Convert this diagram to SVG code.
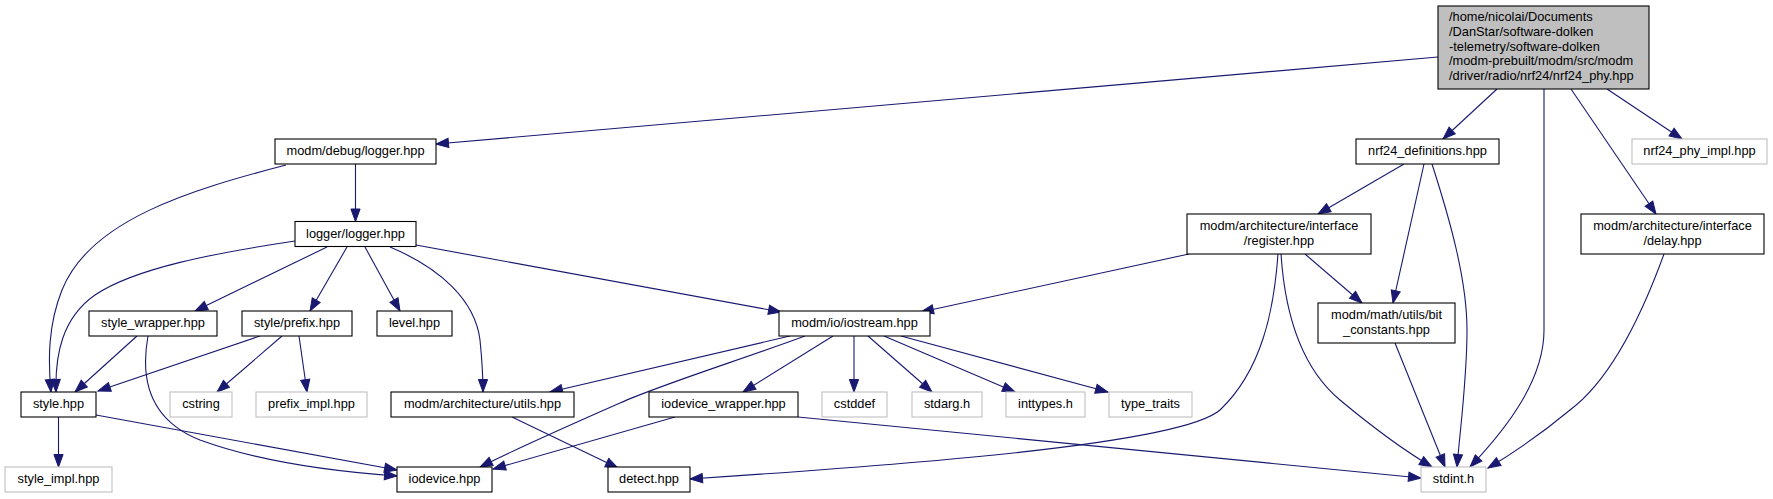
<svg xmlns="http://www.w3.org/2000/svg" width="1773" height="499" viewBox="0 0 1773 499">
<style>
  .n rect { fill: #ffffff; stroke: #000000; stroke-width: 1.1; }
  .x rect { fill: #ffffff; stroke: #bfbfbf; stroke-width: 1.1; }
  .m rect { fill: #bfbfbf; stroke: #000000; stroke-width: 1.1; }
  text { font-family: "Liberation Sans", Arial, Helvetica, sans-serif; font-size: 12.8px; fill: #000000; }
  .c { text-anchor: middle; }
  .edges path { fill: none; stroke: #191970; stroke-width: 1.1; marker-end: url(#arr); }
</style>
<defs>
  <marker id="arr" markerUnits="userSpaceOnUse" markerWidth="14" markerHeight="10" refX="12.5" refY="4.6" orient="auto" overflow="visible">
    <path d="M0,0 L12.5,4.6 L0,9.2 z" fill="#191970" stroke="#191970" stroke-width="1"/>
  </marker>
</defs>
<rect x="0" y="0" width="1773" height="499" fill="#ffffff"/>

<g class="edges" id="edges">
  <path d="M1438,57 L436,144"/>
  <path d="M1497,89 L1443,139"/>
  <path d="M1544,89 L1544,330 C1544,378 1510,425 1470,467"/>
  <path d="M1571,89 L1656,214"/>
  <path d="M1607,89 L1682,139"/>
  <path d="M355.5,164 L355.5,221.5"/>
  <path d="M286,165 C190,190 90,220 62,290 C48,325 48,360 51,392"/>
  <path d="M295,241 C215,253 135,268 95,295 C62,318 55,355 56,392"/>
  <path d="M327,247 L195,311"/>
  <path d="M347,247 L310,311"/>
  <path d="M365,247 L400,311"/>
  <path d="M390,247 C440,268 475,300 480,340 C482,360 483,378 483,392"/>
  <path d="M416,245 L781,312"/>
  <path d="M137,336 L75,392"/>
  <path d="M148,336 C140,380 150,420 200,440 C260,462 340,472 397,476"/>
  <path d="M260,336 L98,391"/>
  <path d="M282,336 L217,392"/>
  <path d="M299,336 L307,392"/>
  <path d="M790,336 L550,392"/>
  <path d="M805,336 C740,360 660,385 620,403 C570,425 520,447 480,467"/>
  <path d="M833,336 L743,392"/>
  <path d="M854,336 L854,392"/>
  <path d="M868,336 L932,392"/>
  <path d="M884,336 L1015,392"/>
  <path d="M901,336 L1108,392"/>
  <path d="M1404,164 L1318,214"/>
  <path d="M1424,164 L1393,303"/>
  <path d="M1432,164 C1450,220 1467,280 1467,330 C1467,380 1460,430 1457,467"/>
  <path d="M1189,254 L921,312"/>
  <path d="M1278,254 C1274,310 1262,370 1220,410 C1180,445 900,465 690,479"/>
  <path d="M1281,254 C1286,330 1310,375 1340,400 C1370,425 1400,448 1432,467"/>
  <path d="M1305,254 L1362,303"/>
  <path d="M1395,343 L1445,467"/>
  <path d="M1664,254 C1640,320 1610,380 1570,410 C1540,435 1515,452 1488,468"/>
  <path d="M675,417 L493,469"/>
  <path d="M798,417 L1421,478"/>
  <path d="M512,417 L618,468"/>
  <path d="M58.5,417 L58.5,467"/>
  <path d="M96,415 L397,470"/>
</g>

<g id="node_main" class="m">
  <rect x="1438" y="6" width="211" height="83"/>
  <text x="1449" y="21">/home/nicolai/Documents</text>
  <text x="1449" y="35.75">/DanStar/software-dolken</text>
  <text x="1449" y="50.5">-telemetry/software-dolken</text>
  <text x="1449" y="65.25">/modm-prebuilt/modm/src/modm</text>
  <text x="1449" y="80">/driver/radio/nrf24/nrf24_phy.hpp</text>
</g>
<g id="node_debug_logger" class="n">
  <rect x="275" y="139" width="161" height="25"/>
  <text class="c" x="355.5" y="155.3">modm/debug/logger.hpp</text>
</g>
<g id="node_nrf24_definitions" class="n">
  <rect x="1356" y="139" width="143" height="25"/>
  <text class="c" x="1427.5" y="155.3">nrf24_definitions.hpp</text>
</g>
<g id="node_nrf24_phy_impl" class="x">
  <rect x="1632" y="139" width="135" height="25"/>
  <text class="c" x="1699.5" y="155.3">nrf24_phy_impl.hpp</text>
</g>
<g id="node_logger_logger" class="n">
  <rect x="295" y="221.5" width="121" height="25"/>
  <text class="c" x="355.5" y="237.8">logger/logger.hpp</text>
</g>
<g id="node_register" class="n">
  <rect x="1187" y="214" width="184" height="40"/>
  <text class="c" x="1279" y="230">modm/architecture/interface</text>
  <text class="c" x="1279" y="244.7">/register.hpp</text>
</g>
<g id="node_delay" class="n">
  <rect x="1581" y="214" width="183" height="40"/>
  <text class="c" x="1672.5" y="230">modm/architecture/interface</text>
  <text class="c" x="1672.5" y="244.7">/delay.hpp</text>
</g>
<g id="node_style_wrapper" class="n">
  <rect x="89" y="311" width="128" height="25"/>
  <text class="c" x="153" y="327.3">style_wrapper.hpp</text>
</g>
<g id="node_style_prefix" class="n">
  <rect x="242" y="311" width="110" height="25"/>
  <text class="c" x="297" y="327.3">style/prefix.hpp</text>
</g>
<g id="node_level" class="n">
  <rect x="377" y="311" width="75" height="25"/>
  <text class="c" x="414.5" y="327.3">level.hpp</text>
</g>
<g id="node_iostream" class="n">
  <rect x="779" y="311" width="151" height="25"/>
  <text class="c" x="854.5" y="327.3">modm/io/iostream.hpp</text>
</g>
<g id="node_bit_constants" class="n">
  <rect x="1318" y="303" width="137" height="40"/>
  <text class="c" x="1386.5" y="319">modm/math/utils/bit</text>
  <text class="c" x="1386.5" y="333.7">_constants.hpp</text>
</g>
<g id="node_style" class="n">
  <rect x="21" y="392" width="75" height="25"/>
  <text class="c" x="58.5" y="408.3">style.hpp</text>
</g>
<g id="node_cstring" class="x">
  <rect x="170" y="392" width="62" height="25"/>
  <text class="c" x="201" y="408.3">cstring</text>
</g>
<g id="node_prefix_impl" class="x">
  <rect x="256" y="392" width="111" height="25"/>
  <text class="c" x="311.5" y="408.3">prefix_impl.hpp</text>
</g>
<g id="node_utils" class="n">
  <rect x="391" y="392" width="183" height="25"/>
  <text class="c" x="482.5" y="408.3">modm/architecture/utils.hpp</text>
</g>
<g id="node_iodevice_wrapper" class="n">
  <rect x="649" y="392" width="149" height="25"/>
  <text class="c" x="723.5" y="408.3">iodevice_wrapper.hpp</text>
</g>
<g id="node_cstddef" class="x">
  <rect x="822" y="392" width="65" height="25"/>
  <text class="c" x="854.5" y="408.3">cstddef</text>
</g>
<g id="node_stdarg" class="x">
  <rect x="912" y="392" width="70" height="25"/>
  <text class="c" x="947" y="408.3">stdarg.h</text>
</g>
<g id="node_inttypes" class="x">
  <rect x="1006" y="392" width="79" height="25"/>
  <text class="c" x="1045.5" y="408.3">inttypes.h</text>
</g>
<g id="node_type_traits" class="x">
  <rect x="1109" y="392" width="83" height="25"/>
  <text class="c" x="1150.5" y="408.3">type_traits</text>
</g>
<g id="node_style_impl" class="x">
  <rect x="5" y="467" width="107" height="25"/>
  <text class="c" x="58.5" y="483.3">style_impl.hpp</text>
</g>
<g id="node_iodevice" class="n">
  <rect x="397" y="467" width="95" height="25"/>
  <text class="c" x="444.5" y="483.3">iodevice.hpp</text>
</g>
<g id="node_detect" class="n">
  <rect x="608" y="467" width="82" height="25"/>
  <text class="c" x="649" y="483.3">detect.hpp</text>
</g>
<g id="node_stdint" class="x">
  <rect x="1421" y="467" width="65" height="25"/>
  <text class="c" x="1453.5" y="483.3">stdint.h</text>
</g>
</svg>
